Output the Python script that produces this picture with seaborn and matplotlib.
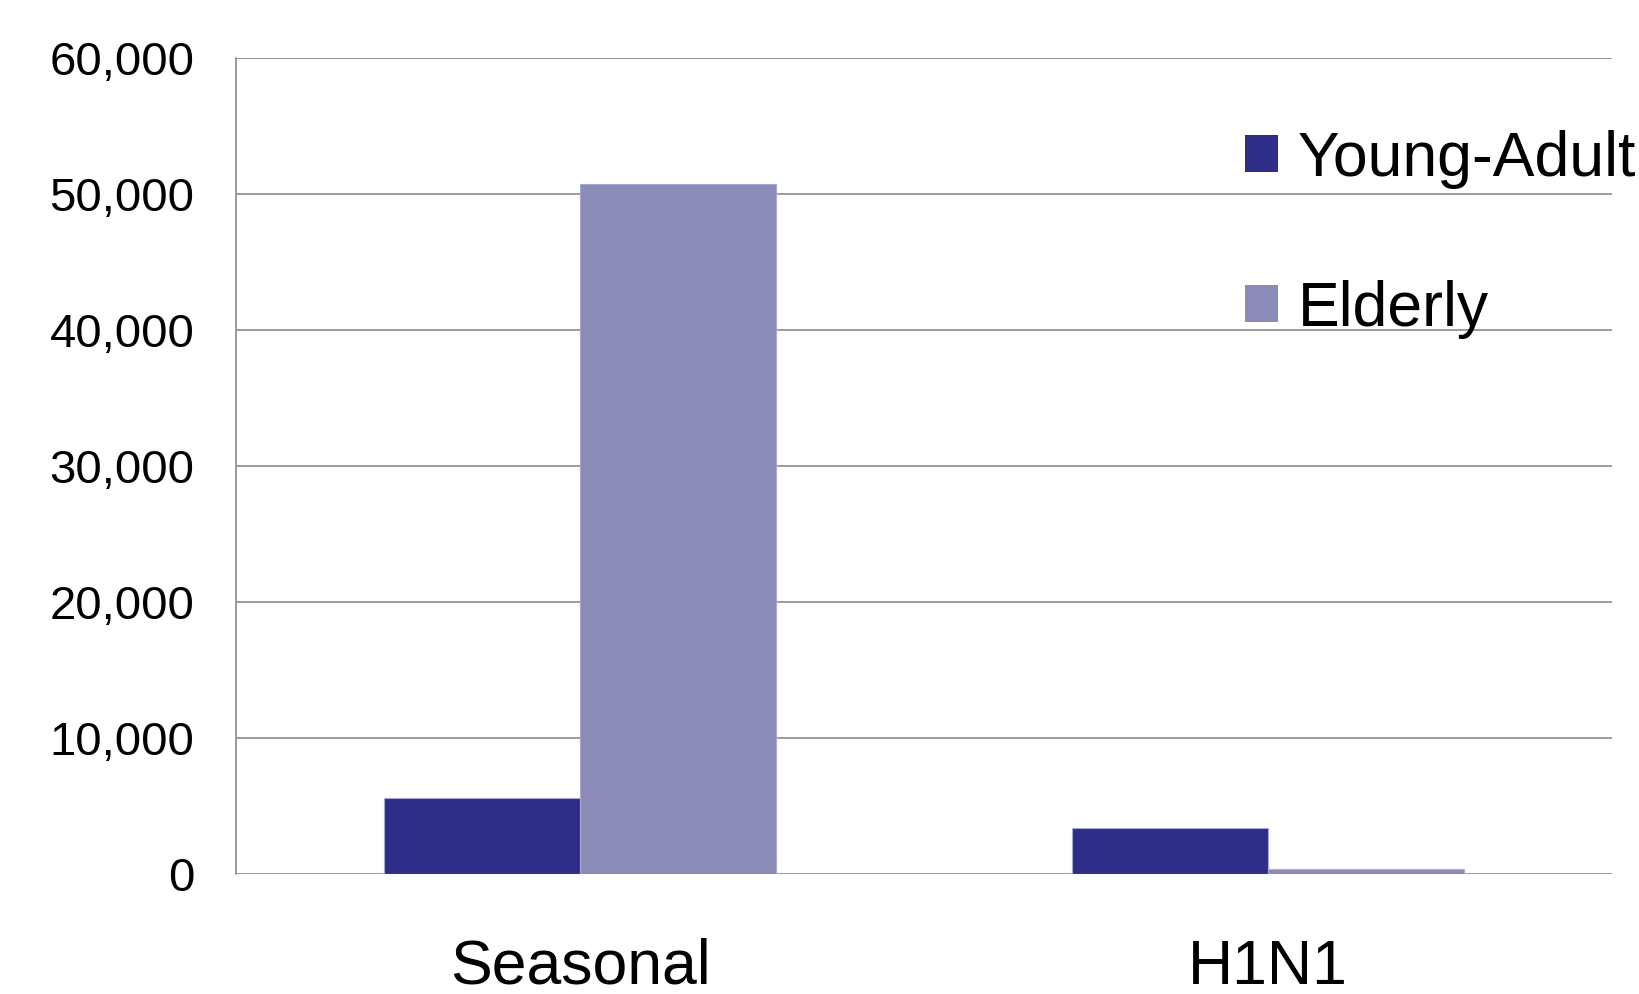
import matplotlib
matplotlib.use("Agg")
import matplotlib.pyplot as plt
import matplotlib.ticker as mticker
from matplotlib.patches import Patch
import pandas as pd
import seaborn as sns

# Data
categories = ["Seasonal", "H1N1"]
groups = ["Young-Adult", "Elderly"]
young_adult = [5600, 3400]
elderly = [50700, 400]
y_ticks = [0, 10000, 20000, 30000, 40000, 50000, 60000]

colors = {"Young-Adult": "#2E2D87", "Elderly": "#8A8BB7"}

df = pd.DataFrame({
    "category": categories * 2,
    "group": [groups[0]] * len(categories) + [groups[1]] * len(categories),
    "value": young_adult + elderly,
})

sns.set_style("white")
plt.rcParams["font.family"] = ["Liberation Sans", "DejaVu Sans"]
plt.rcParams["text.color"] = "black"

fig = plt.figure(figsize=(16.4, 9.94), dpi=100)
ax = fig.add_axes([236 / 1640, 1 - 874 / 994, (1612 - 236) / 1640, (874 - 58) / 994])

sns.barplot(
    data=df, x="category", y="value", hue="group",
    order=categories, hue_order=groups, palette=colors, saturation=1,
    width=0.571, gap=0, edgecolor="#A8A8D4", linewidth=0.8,
    legend=False, ax=ax,
)

ax.set_ylim(0, 60000)
ax.set_xlim(-0.5, 1.5)
ax.set_yticks(y_ticks)
ax.yaxis.set_major_formatter(mticker.FuncFormatter(lambda v, _: f"{int(v):,}"))
ax.set_axisbelow(True)
ax.yaxis.grid(True, color="#8A8A8A", linewidth=1.2)
ax.xaxis.grid(False)

for side in ["top", "right", "bottom"]:
    ax.spines[side].set_visible(False)
ax.spines["left"].set_color("#8A8A8A")
ax.spines["left"].set_linewidth(1.2)

ax.tick_params(axis="y", length=0, pad=30, labelsize=34, labelcolor="black")
ax.tick_params(axis="x", length=0, pad=46, labelsize=45, labelcolor="black")
ax.set_xlabel("")
ax.set_ylabel("")

handles = [Patch(facecolor=colors[g], edgecolor="none") for g in groups]
fig.legend(
    handles, groups, loc="upper left",
    bbox_to_anchor=(1245 / 1640, 1 - 130 / 994),
    frameon=False, fontsize=45, handlelength=0.53, handleheight=0.53,
    handletextpad=0.32, labelspacing=1.45, borderpad=0, borderaxespad=0,
    labelcolor="black",
)

fig.savefig("out.png", dpi=100)
